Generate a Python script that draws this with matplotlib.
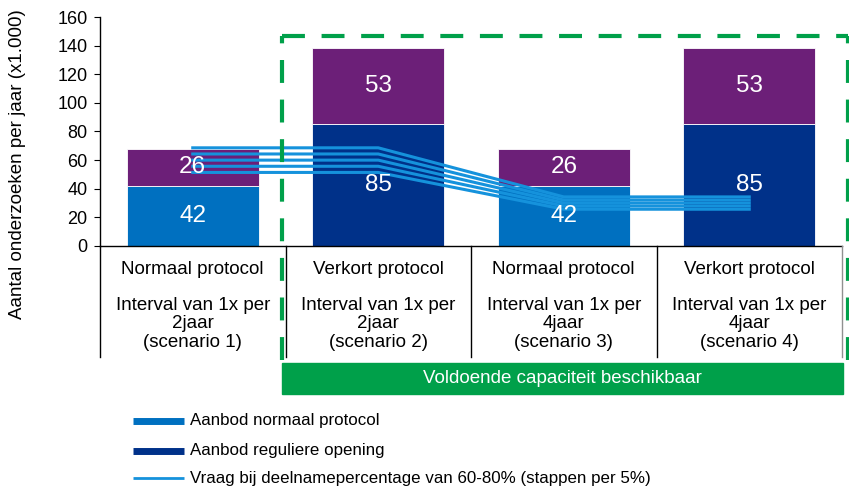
import matplotlib
matplotlib.use("Agg")
import matplotlib.pyplot as plt
from matplotlib.patches import Rectangle
from matplotlib.lines import Line2D
import numpy as np

plt.rcParams['font.family'] = ['Liberation Sans', 'DejaVu Sans']

# Data
scenarios = ["scenario 1", "scenario 2", "scenario 3", "scenario 4"]
protocol_labels = ["Normaal protocol", "Verkort protocol", "Normaal protocol", "Verkort protocol"]
interval_labels = ["Interval van 1x per\n2jaar\n(scenario 1)",
                   "Interval van 1x per\n2jaar\n(scenario 2)",
                   "Interval van 1x per\n4jaar\n(scenario 3)",
                   "Interval van 1x per\n4jaar\n(scenario 4)"]
aanbod_normaal = [42, 0, 42, 0]
aanbod_regulier = [0, 85, 0, 85]
aanbod_extra = [26, 53, 26, 53]
deelname_pct = [60, 65, 70, 75, 80]
vraag = [
    [51.4, 51.4, 25.7, 25.7],
    [55.7, 55.7, 27.9, 27.9],
    [60.0, 60.0, 30.0, 30.0],
    [64.3, 64.3, 32.1, 32.1],
    [68.6, 68.6, 34.3, 34.3],
]
legend_labels = ["Aanbod normaal protocol", "Aanbod reguliere opening",
                 "Vraag bij deelnamepercentage van 60-80% (stappen per 5%)"]
ylabel = "Aantal onderzoeken per jaar (x1.000)"
box_text = "Voldoende capaciteit beschikbaar"

c_light = "#0070C0"
c_dark = "#003189"
c_purple = "#6C1F78"
c_line = "#1592DC"
c_green = "#00A04A"

W, H = 849, 488
fig = plt.figure(figsize=(W / 100, H / 100), dpi=100)

def fx(px):
    return px / W

def fy(py):
    return 1 - py / H

ax = fig.add_axes([fx(100), fy(246), fx(842) - fx(100), fy(17) - fy(246)])
x = np.arange(len(scenarios))
bw = 0.71
base = [a + b for a, b in zip(aanbod_normaal, aanbod_regulier)]
for i in range(len(x)):
    if aanbod_normaal[i]:
        ax.bar(x[i], aanbod_normaal[i], bw, color=c_light, edgecolor="white", linewidth=0.6, zorder=2)
    if aanbod_regulier[i]:
        ax.bar(x[i], aanbod_regulier[i], bw, color=c_dark, edgecolor="white", linewidth=0.6, zorder=2)
    ax.bar(x[i], aanbod_extra[i], bw, bottom=base[i], color=c_purple, edgecolor="white", linewidth=0.6, zorder=2)
    ax.text(x[i], base[i] / 2, f"{base[i]}", ha="center", va="center", color="white", fontsize=17.5, zorder=5)
    ax.text(x[i], base[i] + aanbod_extra[i] / 2, f"{aanbod_extra[i]}", ha="center", va="center",
            color="white", fontsize=17.5, zorder=5)

for v in vraag:
    ax.plot(x, v, color=c_line, linewidth=2.2, zorder=4)

ax.set_xlim(-0.5, 3.5)
ax.set_ylim(0, 160)
ax.set_yticks(range(0, 161, 20))
ax.tick_params(axis="y", direction="out", length=4, labelsize=13, pad=5)
ax.set_xticks([])
for s in ["top", "right"]:
    ax.spines[s].set_visible(False)
ax.spines["left"].set_linewidth(1.0)
ax.spines["bottom"].set_linewidth(1.0)

# table below axis
tb = fy(357)
for xb in [-0.5, 0.5, 1.5, 2.5]:
    xf = fig.transFigure.inverted().transform(ax.transData.transform((xb, 0)))[0]
    fig.add_artist(Line2D([xf, xf], [fy(246), tb], color="black", linewidth=1.0))
fig.add_artist(Line2D([fx(842), fx(842)], [fy(246), tb], color="#909090", linewidth=1.0))
for i in range(len(x)):
    xf = fig.transFigure.inverted().transform(ax.transData.transform((x[i], 0)))[0]
    fig.text(xf, fy(270), protocol_labels[i], ha="center", va="center", fontsize=13.5)
    fig.text(xf, fy(324), interval_labels[i], ha="center", va="center", fontsize=13.5, linespacing=1.12)

# green dashed rect
gx0, gx1, gy0, gy1 = fx(282), fx(848), fy(360), fy(36)
for xs, ys in [([gx0, gx1], [gy1, gy1]), ([gx0, gx0], [gy0, gy1]), ([gx1, gx1], [gy0, gy1])]:
    fig.add_artist(Line2D(xs, ys, color=c_green, linewidth=3, linestyle=(0, (5.5, 4)), zorder=10))

fig.add_artist(Rectangle((fx(282), fy(394)), fx(843) - fx(282), fy(363) - fy(394),
                         transform=fig.transFigure, color=c_green, zorder=11))
fig.text((fx(282) + fx(843)) / 2, (fy(394) + fy(363)) / 2, box_text, ha="center", va="center",
         color="white", fontsize=13.5, zorder=12)

fig.text(fx(18), fy(164), ylabel, rotation=90, ha="center", va="center", fontsize=13.5)

# legend
leg_y = [421, 451, 478]
fig.add_artist(Line2D([fx(133), fx(184)], [fy(leg_y[0])] * 2, color=c_light, linewidth=5, solid_capstyle="butt"))
fig.add_artist(Line2D([fx(133), fx(184)], [fy(leg_y[1])] * 2, color=c_dark, linewidth=5, solid_capstyle="butt"))
fig.add_artist(Line2D([fx(133), fx(184)], [fy(leg_y[2])] * 2, color=c_line, linewidth=2, solid_capstyle="butt"))
for yy, lab in zip(leg_y, legend_labels):
    fig.text(fx(190), fy(yy), lab, ha="left", va="center", fontsize=12.2)

fig.savefig("out.png", dpi=100)
